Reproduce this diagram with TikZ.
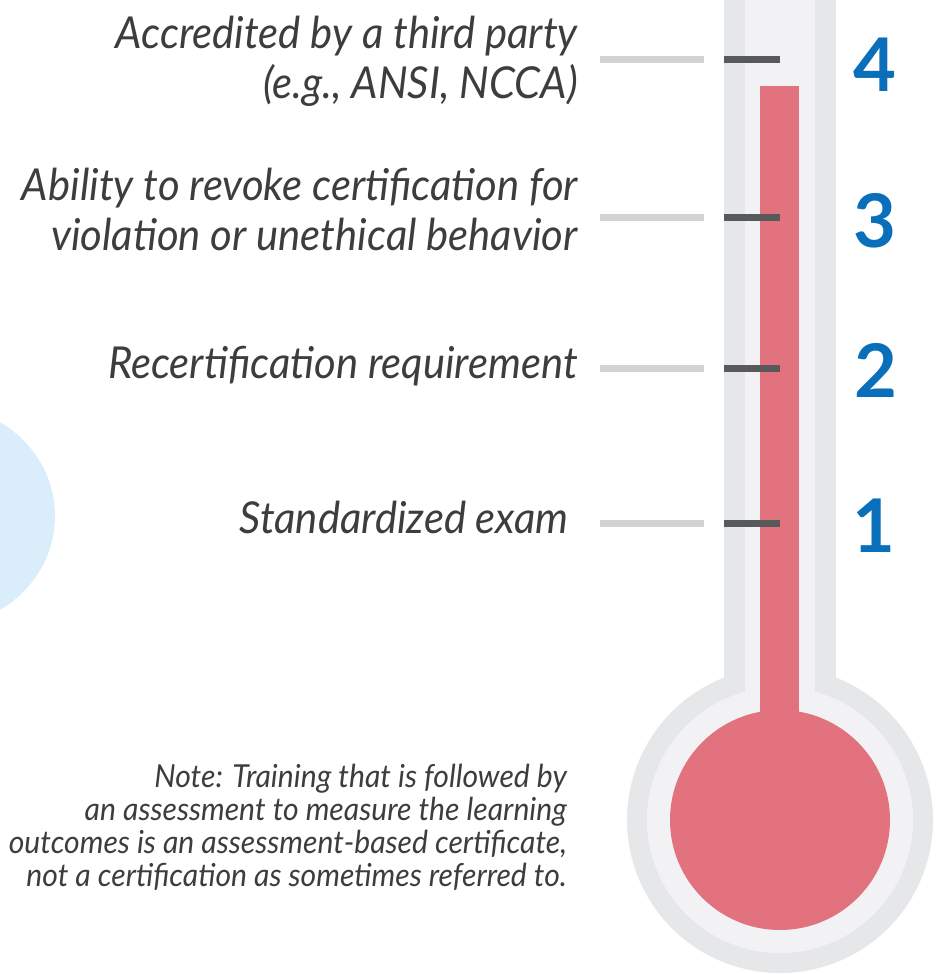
\documentclass[tikz,border=0pt]{standalone}
\usepackage{fontspec}
\usepackage{xcolor}
\newfontfamily\labelfont{Lato}[FakeStretch=0.95]
\newfontfamily\numfont{Lato}
\definecolor{glassout}{HTML}{E6E7E9}
\definecolor{glassin}{HTML}{F2F2F4}
\definecolor{mercury}{HTML}{E2737E}
\definecolor{tickdark}{HTML}{58595B}
\definecolor{leadgray}{HTML}{D1D3D4}
\definecolor{levelblue}{HTML}{0A6FBA}
\definecolor{blobblue}{HTML}{D9EDFA}
\definecolor{textgray}{HTML}{3D3D3F}

\begin{document}
\begin{tikzpicture}[x=1pt, y=-1pt,
    every node/.style={inner sep=0pt},
    leveltext/.style={text=textgray, align=right, anchor=base east,
        font=\labelfont\itshape\fontsize{44}{50}\selectfont},
    notetext/.style={text=textgray, align=right, anchor=base east,
        font=\labelfont\itshape\fontsize{31.7}{33}\selectfont},
    levelnum/.style={text=levelblue, anchor=base,
        font=\numfont\bfseries\fontsize{74}{74}\selectfont},
    leaderline/.style={draw=leadgray, line width=7pt},
    tickmark/.style={draw=tickdark, line width=7pt}]
        \useasboundingbox (0,0) rectangle (937,974);
        % Background blob
        \fill[blobblue] (-60,516) ellipse [x radius=115, y radius=110];

        % Thermometer glass
        \fill[glassout] (724,0) rectangle (836,760);
        \fill[glassout] (780,820) circle [radius=153];
        \fill[glassin] (745,0) rectangle (815,760);
        \fill[glassin] (780,820) circle [radius=133];
        % Mercury
        \fill[mercury] (760,86) rectangle (799,760);
        \fill[mercury] (780,820) circle [radius=110];

        % Tick coordinates
        \coordinate (lead4) at (600,60);  \coordinate (glass4) at (704,60);
        \coordinate (lead3) at (600,217); \coordinate (glass3) at (704,217);
        \coordinate (lead2) at (600,368); \coordinate (glass2) at (704,368);
        \coordinate (lead1) at (600,523); \coordinate (glass1) at (704,523);
        \coordinate (tick4) at (724,60);  \coordinate (tip4) at (780,60);
        \coordinate (tick3) at (724,217); \coordinate (tip3) at (780,217);
        \coordinate (tick2) at (724,368); \coordinate (tip2) at (780,368);
        \coordinate (tick1) at (724,523); \coordinate (tip1) at (780,523);

        % Leaders and ticks
        \draw[leaderline] (lead4) -- (glass4);
        \draw[leaderline] (lead3) -- (glass3);
        \draw[leaderline] (lead2) -- (glass2);
        \draw[leaderline] (lead1) -- (glass1);
        \draw[tickmark] (tick4) -- (tip4);
        \draw[tickmark] (tick3) -- (tip3);
        \draw[tickmark] (tick2) -- (tip2);
        \draw[tickmark] (tick1) -- (tip1);

        % Level labels (base anchor sits on the last line)
        \node (accredit) [leveltext] at (578,98)
            {Accredited by a third party\\(e.g., ANSI, NCCA)};
        \node (revoke) [leveltext] at (578,250)
            {Ability to revoke certification for\\violation or unethical behavior};
        \node (recert) [leveltext] at (578,378) {Recertification requirement};
        \node (exam) [leveltext] at (569,533) {Standardized exam};

        % Level numbers
        \node (n4) [levelnum] at (875,92) {4};
        \node (n3) [levelnum] at (875,247) {3};
        \node (n2) [levelnum] at (876,397) {2};
        \node (n1) [levelnum] at (874,552) {1};

        % Note
        \node (note) [notetext] at (567,886)
            {Note: Training that is followed by\\an assessment to measure the learning\\outcomes is an assessment-based certificate,\\not a certification as sometimes referred to.};
    \end{tikzpicture}
\end{document}
